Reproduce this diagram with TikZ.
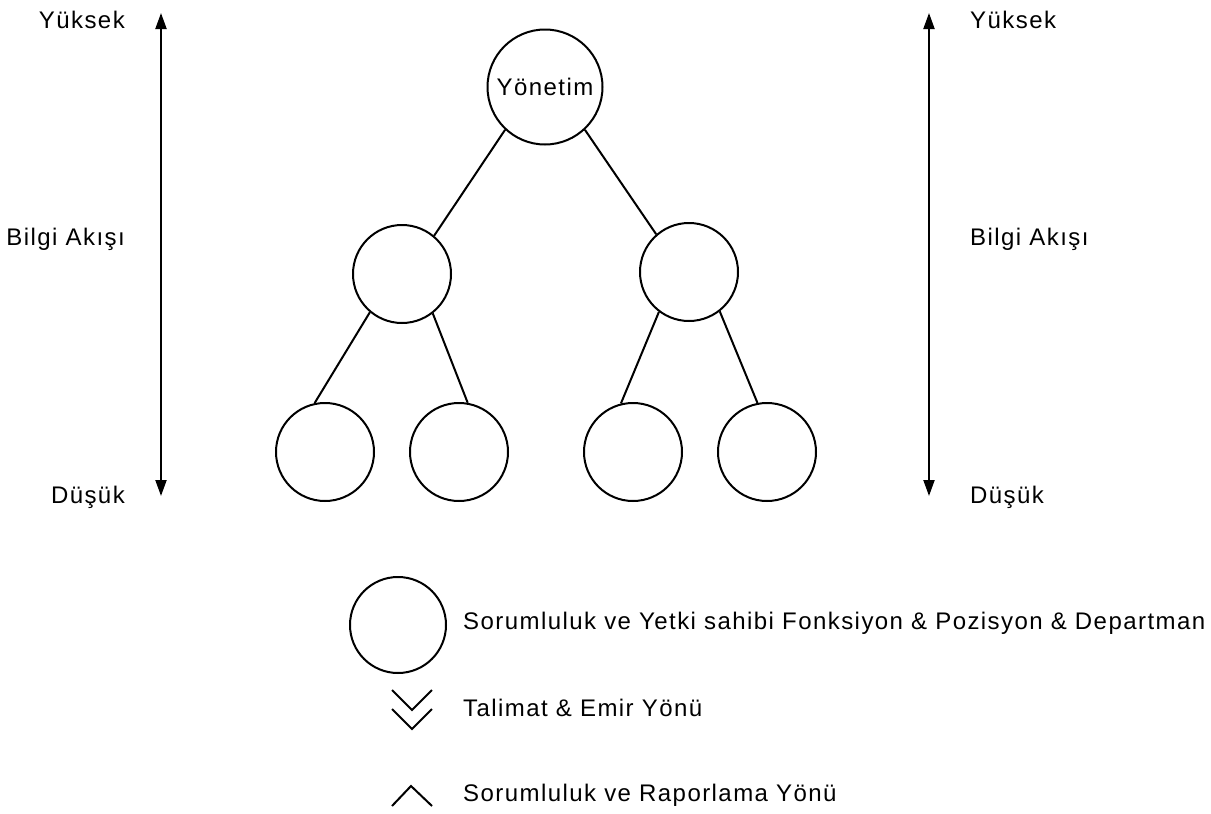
\documentclass[tikz,border=0pt]{standalone}
\usepackage{fontspec}
\setmainfont{Liberation Sans}[LetterSpace=6]
\usetikzlibrary{arrows.meta}
\begin{document}
\begin{tikzpicture}[x=1pt,y=-1pt,
  every node/.style={font=\fontsize{24}{27}\selectfont},
  txt/.style={inner sep=0pt},
  unit/.style={draw,circle,line width=2pt,inner sep=0pt,minimum size=#1},
  link/.style={line width=2pt},
  axis/.style={line width=2pt,{Triangle[length=16pt,width=11pt]}-{Triangle[length=16pt,width=11pt]}},
  chev/.style={line width=2pt}]
\useasboundingbox (0,0) rectangle (1211,814);
% axes
\coordinate (lt) at (161,13); \coordinate (lb) at (161,496);
\coordinate (rt) at (929,13); \coordinate (rb) at (929,496);
\draw[axis] (lt) -- (lb);
\draw[axis] (rt) -- (rb);
\node[txt,anchor=base east] (ly) at (125,28) {Yüksek};
\node[txt,anchor=base east] (lm) at (125,245) {Bilgi Akışı};
\node[txt,anchor=base east] (ld) at (125,503) {Düşük};
\node[txt,anchor=base west] (ry) at (970,28) {Yüksek};
\node[txt,anchor=base west] (rm) at (970,245) {Bilgi Akışı};
\node[txt,anchor=base west] (rd) at (970,503) {Düşük};
% tree
\node[unit=115] (top) at (545,87) {Yönetim};
\node[unit=98] (m1) at (402,274) {};
\node[unit=98] (m2) at (689,272) {};
\node[unit=98] (b1) at (325,452) {};
\node[unit=98] (b2) at (459,452) {};
\node[unit=98] (b3) at (633,452) {};
\node[unit=98] (b4) at (767,452) {};
\draw[link] (top.227) -- (m1.50);
\draw[link] (top.313) -- (m2.131);
\draw[link] (m1.230) -- (b1.102);
\draw[link] (m1.308) -- (b2.80);
\draw[link] (m2.233) -- (b3.104);
\draw[link] (m2.308) -- (b4.101);
% legend
\node[unit=96] (lc) at (398,625) {};
\node[txt,anchor=base west] (t1) at (463,629) {Sorumluluk ve Yetki sahibi Fonksiyon \& Pozisyon \& Departman};
\draw[chev] (392,690) -- (412,710) -- (432,690);
\draw[chev] (392,709) -- (412,729) -- (432,709);
\node[txt,anchor=base west] (t2) at (463,716) {Talimat \& Emir Yönü};
\draw[chev] (392,806) -- (411,786) -- (432,806);
\node[txt,anchor=base west] (t3) at (463,801) {Sorumluluk ve Raporlama Yönü};
\end{tikzpicture}
\end{document}
